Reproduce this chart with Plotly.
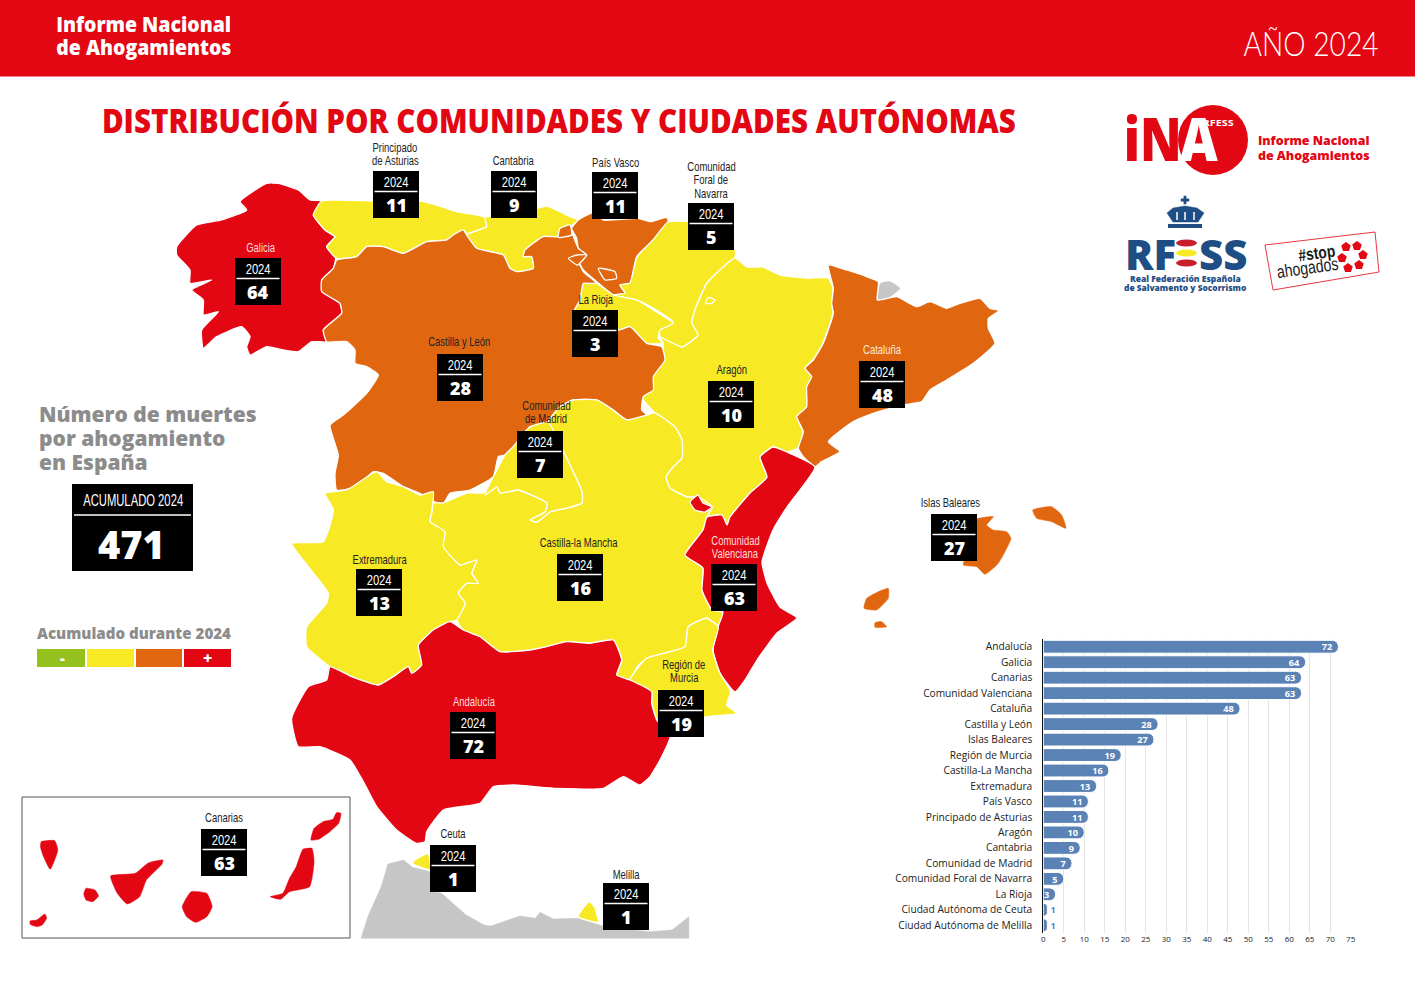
import json
import plotly.graph_objects as go

# ---------- data ----------
categories = ["Andalucía", "Galicia", "Canarias", "Comunidad Valenciana", "Cataluña", "Castilla y León",
              "Islas Baleares", "Región de Murcia", "Castilla-La Mancha", "Extremadura", "País Vasco",
              "Principado de Asturias", "Aragón", "Cantabria", "Comunidad de Madrid",
              "Comunidad Foral de Navarra", "La Rioja", "Ciudad Autónoma de Ceuta", "Ciudad Autónoma de Melilla"]
values = [72, 64, 63, 63, 48, 28, 27, 19, 16, 13, 11, 11, 10, 9, 7, 5, 3, 1, 1]
x_ticks = list(range(0, 80, 5))
year = "2024"
total = 471

RED, ORANGE, YELLOW, GREEN, GREY = "#e30613", "#e06710", "#f8e925", "#95c11f", "#c6c6c6"
BLUE, NAVY = "#5b82b5", "#1f4e85"
NARROW = "'Liberation Sans', sans-serif"
SANS = "'Open Sans', sans-serif"

# ---------- map outlines, as traced on the reference ----------
def off(ox, oy, pts, sx=3.0):
    return [(ox + a / sx, oy + b / 3) for a, b in pts]

SX5 = 2.236
galicia = off(170, 140, [(455,183),(430,225),(465,270),(495,290),(470,320),(497,350),(490,385),(455,420),(460,455),(510,490),(515,520),(460,570),(470,605),(425,605),(385,635),(340,630),(290,620),(240,645),(230,620),(240,590),(215,560),(140,590),(100,625),(95,570),(145,515),(100,525),(100,480),(65,450),(125,420),(60,430),(60,390),(20,345),(20,320),(80,255),(155,240),(230,210),(210,185),(290,130),(325,130),(385,150),(420,180)])
asturias = off(170, 140, [(455,183),(610,183),(750,183),(800,195),(860,215),(945,232),(950,260),(890,280),(880,270),(850,290),(830,300),(770,305),(700,340),(640,320),(590,320),(560,350),(500,355),(470,320),(495,290),(465,270),(430,225)])
cantabria = off(170, 140, [(945,232),(1000,230),(1070,215),(1130,198),(1200,230),(1225,240),(1200,260),(1170,265),(1165,290),(1120,290),(1065,330),(1060,350),(1085,350),(1090,385),(1040,395),(1020,385),(1000,345),(920,325),(890,285),(950,260)])
pais_vasco = off(170, 140, [(1225,240),(1270,218),(1300,240),(1405,235),(1440,245),(1490,232),(1495,245),(1450,300),(1400,350),(1380,430),(1350,435),(1365,460),(1330,465),(1280,425),(1240,390),(1225,360),(1250,345),(1225,325),(1220,295),(1205,265)])
castilla_leon = off(170, 140, [(500,360),(560,350),(590,320),(640,320),(700,340),(770,305),(830,300),(850,285),(880,270),(890,285),(920,325),(1000,345),(1020,385),(1040,395),(1090,385),(1085,350),(1060,350),(1065,330),(1120,290),(1165,290),(1200,270),(1225,325),(1250,345),(1225,360),(1240,395),(1280,430),(1240,430),(1230,480),(1210,520),(1345,570),(1380,560),(1430,610),(1475,620),(1485,660),(1450,710),(1450,750),(1420,770),(1415,810),(1430,825),(1370,840),(1330,810),(1280,780),(1210,780),(1170,800),(1130,850),(1080,860),(1030,920),(1005,945),(985,950),(970,1010),(900,1050),(840,1060),(820,1090),(790,1085),(750,1060),(700,1040),(640,1000),(610,995),(560,1040),(500,1050),(495,1000),(505,945),(480,855),(520,825),(590,760),(625,705),(590,680),(555,670),(555,630),(530,605),(470,605),(460,570),(515,520),(510,490),(455,455),(455,420),(490,385)])
rioja = off(170, 140, [(1240,430),(1280,430),(1330,465),(1400,480),(1450,510),(1510,550),(1470,570),(1465,595),(1480,610),(1430,610),(1380,560),(1345,570),(1210,520),(1230,480)])
enclave_a = off(170, 140, [(1285,385),(1335,395),(1340,415),(1305,420)])
enclave_b = off(170, 140, [(1195,355),(1220,345),(1250,345),(1222,375)])
enclave_c = off(170, 140, [(1170,265),(1200,255),(1205,285),(1165,292)])
navarra = [(668,222),(690,222),(735,250),(735,258),(707,283),(695,310),(692,323),(698,335),(682,347),(660,337),(660,328),(673,322),(653,308),(637,300),(613,295),(625,293),(620,285),(630,283),(637,257),(653,240)]
petilla = off(640, 240, [(196,190),(205,172),(225,180),(215,190)])
aragon = [(735,258),(747,267),(763,267),(780,275),(807,278),(828,278),(833,288),(832,303),(833,313),(823,343),(813,360),(805,368),(812,377),(807,387),(807,407),(797,417),(803,432),(798,448),(787,452),(773,447),(760,457),(767,477),(750,493),(730,517),(727,525),(722,515),(707,517),(712,507),(698,497),(687,497),(670,488),(666,477),(673,467),(682,458),(682,440),(675,427),(655,413),(642,397),(655,373),(663,363),(663,343),(660,337),(682,347),(698,335),(692,323),(695,310),(707,283)]
ademuz = [(698,495),(703,503),(712,507),(705,512),(695,510),(690,502)]
cataluna = off(640, 240, [(565,75),(620,90),(680,110),(715,125),(712,180),(770,170),(830,200),(870,185),(920,205),(960,190),(1020,175),(1050,205),(1078,212),(1045,235),(1045,265),(1065,310),(1000,370),(920,420),(870,450),(845,485),(790,495),(700,520),(640,545),(565,605),(600,635),(545,665),(525,680),(490,650),(475,625),(490,575),(470,530),(500,500),(500,440),(515,410),(495,385),(520,360),(550,310),(580,220),(575,190),(580,145)])
andorra = off(640, 240, [(722,130),(750,125),(780,145),(750,170),(715,180),(715,155)])
valencia = [(815,467),(787,452),(773,447),(760,457),(767,477),(750,493),(730,517),(727,525),(722,515),(707,517),(703,530),(685,555),(703,568),(702,590),(712,610),(723,612),(718,627),(713,650),(720,673),(735,692),(745,680),(757,660),(777,633),(797,618),(780,607),(767,583),(762,562),(773,530),(787,507)]
murcia = off(280, 460, [(1315,500),(1298,570),(1320,640),(1352,695),(1340,735),(1370,760),(1270,772),(1170,830),(1140,830),(1130,780),(1115,730),(1115,695),(1050,660),(1100,595),(1170,575),(1215,560),(1225,500),(1280,475)])
andalucia = off(280, 460, [(510,485),(550,510),(600,530),(660,575),(750,570),(800,560),(860,545),(930,550),(1000,540),(1025,600),(1010,645),(1050,660),(1115,695),(1115,730),(1130,780),(1170,830),(1140,900),(1110,950),(1080,975),(1030,950),(970,985),(830,985),(700,975),(640,980),(600,1030),(490,1050),(440,1115),(435,1145),(410,1150),(350,1110),(290,1040),(250,965),(210,900),(120,860),(55,860),(35,775),(85,680),(140,660),(150,620),(215,650),(295,675),(340,650),(385,620),(395,640),(425,615),(415,555),(460,510)])
extremadura = off(280, 460, [(135,100),(200,90),(290,35),(320,65),(370,80),(420,105),(460,95),(455,155),(450,185),(495,215),(490,260),(540,315),(590,300),(575,340),(595,370),(560,370),(535,400),(555,430),(530,480),(510,485),(460,510),(415,555),(425,615),(395,640),(385,620),(340,650),(295,675),(215,650),(150,620),(80,560),(80,500),(140,430),(145,400),(85,320),(35,250),(130,245),(160,150)])
madrid = [(485,495),(505,455),(513,447),(530,427),(548,422),(558,440),(570,465),(577,480),(582,492),(582,503),(567,508),(550,512),(537,522),(530,520),(545,512),(547,503),(518,490),(500,493),(497,487)]
mancha = [(560,407),(573,400),(597,400),(613,410),(627,420),(647,415),(655,413),(675,427),(682,440),(682,458),(673,467),(666,477),(670,488),(687,497),(698,497),(712,507),(707,517),(703,530),(685,555),(703,568),(702,590),(712,610),(723,612),(718,627),(707,618),(688,627),(685,647),(670,652),(647,658),(637,667),(630,680),(617,675),(622,660),(613,640),(590,643),(567,642),(547,647),(530,650),(500,652),(480,637),(463,630),(457,620),(465,603),(458,593),(467,583),(478,583),(472,573),(477,560),(460,565),(443,547),(445,532),(430,522),(432,512),(433,503),(443,503),(467,493),(483,493),(497,487),(500,493),(518,490),(547,503),(545,512),(530,520),(537,522),(550,512),(567,508),(582,503),(582,492),(577,480),(570,465),(558,440),(548,422)]
mallorca = off(640, 240, [(1000,840),(1060,830),(1040,855),(1060,870),(1100,875),(1113,895),(1075,970),(1035,1003),(1010,980),(970,975),(1000,900)])
menorca = off(640, 240, [(1178,810),(1235,800),(1265,825),(1278,865),(1235,845),(1190,835)])
ibiza = off(640, 240, [(680,1075),(715,1055),(745,1045),(745,1075),(710,1110),(672,1105)])
formentera = off(640, 240, [(705,1148),(725,1145),(740,1160),(705,1162)])
la_palma = off(10, 790, [(70,155),(100,152),(107,180),(90,238),(75,200),(68,170)], SX5)
hierro = off(10, 790, [(45,393),(60,390),(78,372),(82,385),(72,405),(60,410),(45,403)], SX5)
gomera = off(10, 790, [(170,295),(190,300),(198,318),(185,335),(170,330),(165,312)], SX5)
tenerife = off(10, 790, [(225,258),(280,250),(310,218),(342,210),(340,222),(305,270),(290,320),(262,342),(240,310)], SX5)
gran_canaria = off(10, 790, [(405,305),(440,310),(452,350),(440,380),(415,397),(395,380),(385,350)], SX5)
fuerteventura = off(10, 790, [(655,178),(675,175),(680,215),(670,290),(625,305),(605,328),(582,320),(610,310),(625,265),(640,230)], SX5)
lanzarote = off(10, 790, [(730,68),(740,70),(735,100),(715,125),(690,148),(673,150),(680,115),(700,95),(722,88)], SX5)
africa = off(10, 790, [(785,445),(800,380),(830,290),(845,222),(880,210),(900,232),(940,245),(945,305),(965,310),(1000,350),(1020,375),(1060,405),(1075,408),(1140,378),(1175,385),(1185,367),(1215,387),(1270,385),(1330,410),(1430,425),(1480,420),(1518,380),(1518,445)], SX5)
ceuta = off(10, 790, [(905,210),(935,190),(940,240),(915,230),(900,220)], SX5)
melilla = off(10, 790, [(1295,335),(1307,350),(1315,397),(1270,380)], SX5)
crown = [(1167,213),(1173,208),(1185,206),(1197,208),(1204,213),(1198,222),(1173,222)]

regions = [(africa, GREY, 0), (andorra, GREY, 0), (galicia, RED, 1), (asturias, YELLOW, 1), (cantabria, YELLOW, 1),
           (pais_vasco, ORANGE, 1), (navarra, YELLOW, 1), (aragon, YELLOW, 1), (petilla, YELLOW, 1), (rioja, YELLOW, 1),
           (castilla_leon, ORANGE, 1), (enclave_a, ORANGE, 1), (enclave_b, ORANGE, 1), (enclave_c, ORANGE, 1),
           (cataluna, ORANGE, 1), (mancha, YELLOW, 1), (madrid, YELLOW, 1), (extremadura, YELLOW, 1),
           (valencia, RED, 1), (ademuz, RED, 1), (murcia, YELLOW, 1), (andalucia, RED, 1),
           (mallorca, ORANGE, 0), (menorca, ORANGE, 0), (ibiza, ORANGE, 0), (formentera, ORANGE, 0),
           (la_palma, RED, 0), (hierro, RED, 0), (gomera, RED, 0), (tenerife, RED, 0),
           (gran_canaria, RED, 0), (fuerteventura, RED, 0), (lanzarote, RED, 0),
           (ceuta, YELLOW, 1), (melilla, YELLOW, 1)]

boxes = [("Principado de Asturias", 373, 171, ["Principado", "de Asturias"], 395, 147, "#222222"),
         ("Cantabria", 491, 171, ["Cantabria"], 513, 160, "#222222"),
         ("País Vasco", 592, 172, ["País Vasco"], 615, 162, "#222222"),
         ("Comunidad Foral de Navarra", 688, 203, ["Comunidad", "Foral de", "Navarra"], 711, 166, "#222222"),
         ("Galicia", 235, 258, ["Galicia"], 261, 247, "#ffdddd"),
         ("La Rioja", 572, 310, ["La Rioja"], 596, 299, "#222222"),
         ("Castilla y León", 437, 354, ["Castilla y León"], 459, 341, "#222222"),
         ("Comunidad de Madrid", 517, 431, ["Comunidad", "de Madrid"], 546, 405, "#222222"),
         ("Aragón", 708, 381, ["Aragón"], 732, 369, "#222222"),
         ("Cataluña", 859, 361, ["Cataluña"], 882, 349, "#ffe8dd"),
         ("Islas Baleares", 931, 514, ["Islas Baleares"], 950, 502, "#222222"),
         ("Comunidad Valenciana", 711, 564, ["Comunidad", "Valenciana"], 735, 540, "#ffdddd"),
         ("Castilla-La Mancha", 557, 554, ["Castilla-la Mancha"], 579, 542, "#222222"),
         ("Extremadura", 356, 569, ["Extremadura"], 380, 559, "#222222"),
         ("Región de Murcia", 658, 690, ["Región de", "Murcia"], 684, 664, "#222222"),
         ("Andalucía", 450, 712, ["Andalucía"], 474, 701, "#ffdddd"),
         ("Canarias", 201, 829, ["Canarias"], 224, 817, "#222222"),
         ("Ciudad Autónoma de Ceuta", 430, 845, ["Ceuta"], 453, 833, "#222222"),
         ("Ciudad Autónoma de Melilla", 603, 883, ["Melilla"], 626, 874, "#222222")]

# ---------- figure ----------
fig = go.Figure()
anns, shapes = [], []
fit = {}

def text(x, y, s, size, color, family=SANS, weight=None, anchor="center", angle=0, width=None):
    f = dict(size=size, color=color, family=family)
    if weight:
        f["weight"] = weight
    anns.append(dict(xref="x2", yref="y2", x=x, y=y, text=s, showarrow=False, xanchor=anchor, yanchor="middle",
                     font=f, textangle=angle, borderpad=0, borderwidth=0))
    if width:
        fit[f"{s}|{float(size):.1f}"] = width

def rect(x0, y0, x1, y1, fill, line=None, width=0):
    shapes.append(dict(type="rect", xref="x2", yref="y2", x0=x0, y0=y0, x1=x1, y1=y1, fillcolor=fill,
                       line=dict(color=line or fill, width=width)))

def hline(x0, x1, y, color="white", width=1.6):
    shapes.append(dict(type="line", xref="x2", yref="y2", x0=x0, x1=x1, y0=y, y1=y, line=dict(color=color, width=width)))

def poly(pts, fill, outline=0, smooth=0.45):
    closed = list(pts) + [pts[0]]
    ln = dict(color="white" if outline else fill, width=1.3 if outline else 0.5)
    if smooth:
        ln.update(shape="spline", smoothing=smooth)
    fig.add_trace(go.Scatter(x=[p[0] for p in closed], y=[p[1] for p in closed], xaxis="x2", yaxis="y2",
                             mode="lines", fill="toself", fillcolor=fill, line=ln,
                             hoverinfo="skip", showlegend=False))

# bar chart
text_pos = ["inside" if v > 1 else "outside" for v in values]
text_col = ["white" if v > 1 else BLUE for v in values]
fig.add_trace(go.Bar(x=values, y=categories, orientation="h", text=[str(v) for v in values],
                     textposition=text_pos, insidetextanchor="end", textangle=0, cliponaxis=False,
                     textfont=dict(size=10, color=text_col, family=SANS, weight=700),
                     marker=dict(color=BLUE, cornerradius=6, line=dict(color="white", width=1)),
                     hoverinfo="skip", showlegend=False))

# map
for pts, col, outline in regions:
    poly(pts, col, outline, smooth=0 if pts is africa else 0.45)

# Canarias frame
shapes.append(dict(type="rect", xref="x2", yref="y2", x0=22, y0=797, x1=350, y1=938, line=dict(color="#555555", width=1)))
# header
rect(0, 0, 1415, 76.5, RED)
text(143.5, 23.5, "Informe Nacional", 21.5, "white", SANS, 800, width=175)
text(143.5, 46.5, "de Ahogamientos", 21.5, "white", SANS, 800, width=175)
text(1310.5, 43, "AÑO 2024", 33, "white", "Lato", 300, width=135)
text(559, 120, "DISTRIBUCIÓN POR COMUNIDADES Y CIUDADES AUTÓNOMAS", 33.5, RED, SANS, 800, width=914)

# left column
for i, line in enumerate(["Número de muertes", "por ahogamiento", "en España"]):
    text(39, 414 + 24 * i, line, 21, "#8c8c8c", SANS, 800, "left")
rect(72, 484, 193, 571, "black")
text(133, 500, "ACUMULADO " + year, 16, "white", NARROW, width=100)
hline(74, 191, 515)
text(131, 544, str(total), 38, "white", SANS, 800)
text(37, 633, "Acumulado durante " + year, 15.1, "#8c8c8c", SANS, 800, "left")
for x0, x1, col in [(37, 85, GREEN), (87, 134, YELLOW), (136, 182, ORANGE), (184, 231, RED)]:
    rect(x0, 649, x1, 667, col)
text(62, 658, "-", 15, "white", SANS, 800)
text(207, 658, "+", 16, "white", SANS, 800)

# region boxes
lookup = dict(zip(categories, values))
for name, left, top, lines, lx, ly, lcol in boxes:
    rect(left, top, left + 46, top + 47, "black")
    hline(left + 1.5, left + 44.5, top + 20.5)
    text(left + 23, top + 11, year, 14.5, "white", NARROW, width=25)
    text(left + 23, top + 34, str(lookup[name]), 18, "white", SANS, 800)
    for i, line in enumerate(lines):
        text(lx, ly + i * 13.7, line, 13.5, lcol, NARROW)

# logos
shapes.append(dict(type="circle", xref="x2", yref="y2", x0=1178, y0=105, x1=1248, y1=175, fillcolor=RED, line=dict(width=0)))
text(1153, 138, "iN", 60, RED, SANS, 800, width=58)
text(1199, 138, "A", 60, "white", SANS, 800, width=38)
text(1218, 122, "RFESS", 8.5, "white", SANS, 700, width=31)
fig.add_trace(go.Scatter(x=[1218], y=[112], xaxis="x2", yaxis="y2", mode="markers",
                         marker=dict(color="white", symbol="square", size=6), hoverinfo="skip", showlegend=False))
text(1258, 140.5, "Informe Nacional", 12.4, RED, SANS, 800, "left")
text(1258, 155, "de Ahogamientos", 12.4, RED, SANS, 800, "left")
poly(crown, NAVY, smooth=0)
rect(1168, 224, 1202, 228, NAVY)
for sl in (1177, 1185, 1194):
    shapes.append(dict(type="line", xref="x2", yref="y2", x0=sl, x1=sl, y0=212, y1=220, line=dict(color="white", width=1.5)))
fig.add_trace(go.Scatter(x=[1185], y=[200], xaxis="x2", yaxis="y2", mode="markers",
                         marker=dict(color=NAVY, symbol="cross", size=7), hoverinfo="skip", showlegend=False))
text(1125, 253, "RF", 42, NAVY, SANS, 800, "left")
text(1199, 253, "SS", 42, NAVY, SANS, 800, "left")
for yc, col in [(243, "#c8202a"), (253, YELLOW), (263, "#c8202a")]:
    shapes.append(dict(type="circle", xref="x2", yref="y2", x0=1176, x1=1197, y0=yc - 3.5, y1=yc + 3.5,
                       fillcolor=col, line=dict(width=0)))
text(1185, 278, "Real Federación Española", 8.5, NAVY, SANS, 800)
text(1185, 287, "de Salvamento y Socorrismo", 8.4, NAVY, SANS, 800)
sticker = [(1265, 245), (1375, 232), (1379, 272), (1273, 290)]
sx = [p[0] for p in sticker + sticker[:1]]
sy = [p[1] for p in sticker + sticker[:1]]
fig.add_trace(go.Scatter(x=sx, y=sy, xaxis="x2", yaxis="y2", mode="lines", line=dict(color=RED, width=0.8),
                         hoverinfo="skip", showlegend=False))
text(1316, 253, "#stop", 17, "#1a1a1a", NARROW, 700, angle=-8, width=37)
text(1307, 268, "ahogados", 18, "#1a1a1a", NARROW, 400, angle=-8, width=62)
fig.add_trace(go.Scatter(x=[1346, 1357, 1363, 1359, 1348, 1342], y=[247, 246, 255, 265, 268, 258],
                         xaxis="x2", yaxis="y2", mode="markers",
                         marker=dict(color=RED, symbol="pentagon", size=10), hoverinfo="skip", showlegend=False))

fig.update_layout(
    width=1415, height=1000, margin=dict(l=0, r=0, t=0, b=0), paper_bgcolor="white", plot_bgcolor="rgba(0,0,0,0)",
    bargap=0.17, uniformtext=dict(mode="show", minsize=8), annotations=anns, shapes=shapes,
    xaxis=dict(domain=[1043.3 / 1415, 1350.7 / 1415], range=[0, 75], tickvals=x_ticks, side="bottom", anchor="y",
               tickfont=dict(size=8, family=SANS, color="#222222"), showgrid=True, gridcolor="#e4e4e4", gridwidth=1,
               zeroline=False, ticks="", ticklen=0, automargin=False),
    yaxis=dict(domain=[1 - 933 / 1000, 1 - 639 / 1000], autorange="reversed", anchor="x", showline=True,
               linecolor="#111111", linewidth=1, ticks="", ticklabelstandoff=8, tickmode="array", tickvals=categories,
               tickfont=dict(size=10.2, family=SANS, color="#222222"), showgrid=False, automargin=False),
    xaxis2=dict(domain=[0, 1], range=[0, 1415], visible=False, anchor="y2", fixedrange=True, automargin=False),
    yaxis2=dict(domain=[0, 1], range=[1000, 0], visible=False, anchor="x2", fixedrange=True, automargin=False),
)
squeeze_js = """
document.body.style.margin='0';
var fit=%s;
document.querySelectorAll('.annotation-text').forEach(function(t){
  var key=t.textContent+'|'+parseFloat(t.style.fontSize).toFixed(1);
  var w=t.getComputedTextLength(), target=null;
  if(fit[key]!==undefined){target=fit[key];}
  else if(t.style.fontFamily.indexOf('Liberation')>=0){target=w*0.70;}
  if(target){t.setAttribute('textLength',target);t.setAttribute('lengthAdjust','spacingAndGlyphs');}
});
""" % json.dumps(fit)
fig.write_html("out.html", post_script=squeeze_js, config=dict(displayModeBar=False))
